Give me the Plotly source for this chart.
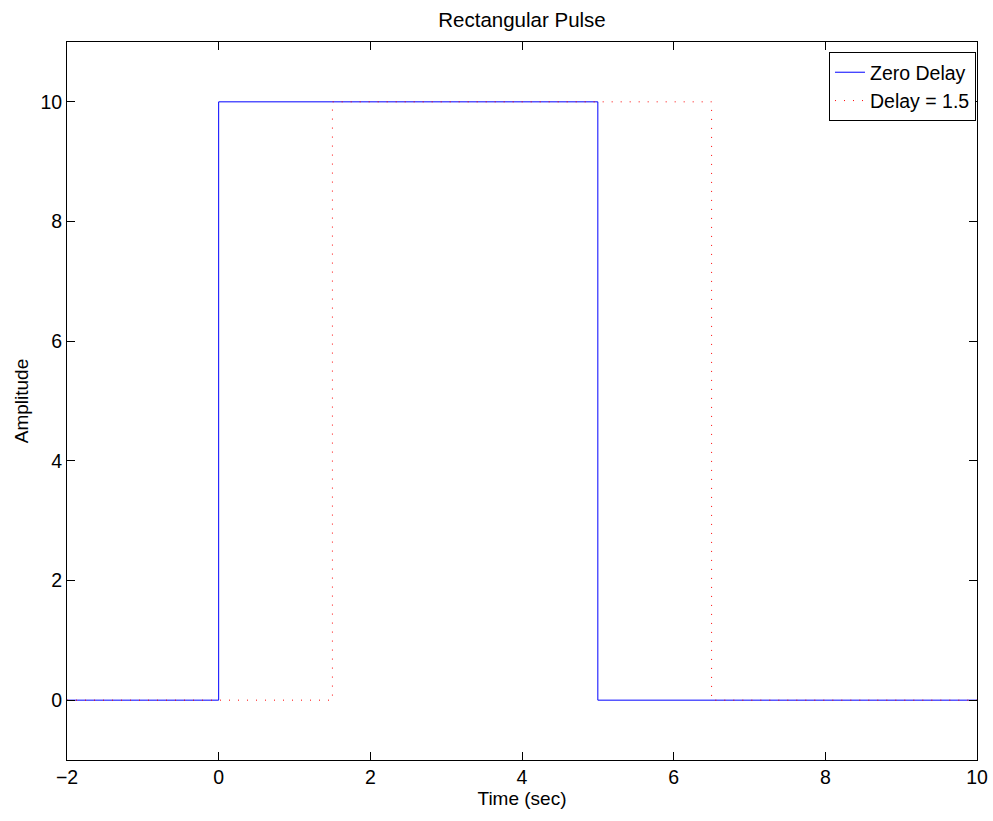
import plotly.graph_objects as go

# Pulse edges (seconds) and amplitude
t_zero = [-2, 0, 0, 5, 5, 10]
a_zero = [0, 0, 10, 10, 0, 0]
t_delay = [-2, 1.5, 1.5, 6.5, 6.5, 10]
a_delay = [0, 0, 10, 10, 0, 0]

x_ticks = [-2, 0, 2, 4, 6, 8, 10]
y_ticks = [0, 2, 4, 6, 8, 10]

font = "Liberation Sans, Arial, Helvetica, sans-serif"

fig = go.Figure()
fig.add_trace(go.Scatter(x=t_zero, y=a_zero, mode="lines", name="Zero Delay",
                         line=dict(color="blue", width=1)))
fig.add_trace(go.Scatter(x=t_delay, y=a_delay, mode="lines", name="Delay = 1.5",
                         line=dict(color="red", width=1, dash="1px,8px")))

axis_common = dict(showline=True, linecolor="black", linewidth=1, mirror="ticks",
                   ticks="inside", ticklen=8, tickcolor="black", tickwidth=1,
                   showgrid=False, zeroline=False, automargin=False,
                   tickfont=dict(family=font, size=19.5, color="black"))

fig.update_layout(
    width=993, height=821,
    margin=dict(l=67, r=16, t=42, b=61),
    plot_bgcolor="white", paper_bgcolor="white",
    title=dict(text="Rectangular Pulse", x=0.5, xanchor="center", y=1 - 20 / 821, yanchor="middle",
               xref="paper",
               font=dict(family=font, size=20.5, color="black")),
    xaxis=dict(range=[-2, 10], tickvals=x_ticks, ticktext=["\u22122"] + [str(v) for v in x_ticks[1:]],
               title=dict(text="Time (sec)", font=dict(family=font, size=19, color="black"), standoff=4),
               **axis_common),
    yaxis=dict(range=[-1, 11], tickvals=y_ticks, ticklabelstandoff=0,
               title=dict(text="Amplitude", font=dict(family=font, size=19, color="black"), standoff=6),
               **axis_common),
    legend=dict(x=0.9989, y=0.986, xanchor="right", yanchor="top",
                bordercolor="black", borderwidth=1, bgcolor="white",
                font=dict(family=font, size=19.5, color="black"),
                itemwidth=30, tracegroupgap=0),
    showlegend=True,
)

fig.write_html("out.html")
